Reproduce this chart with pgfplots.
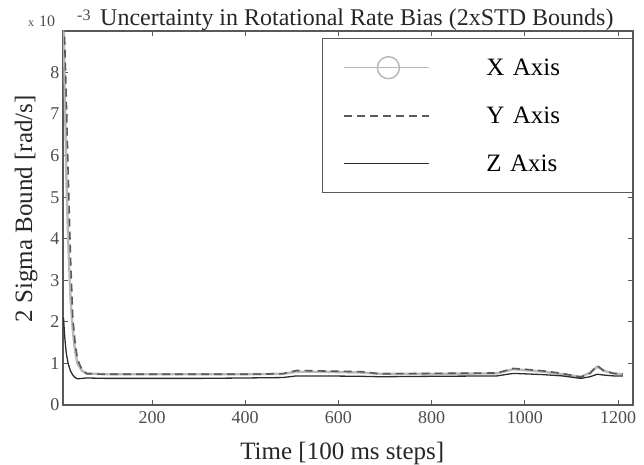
\documentclass[border=0pt]{standalone}
\usepackage{pgfplots}
\pgfplotsset{compat=1.18}
\usetikzlibrary{calc}
\usepackage{fontspec}
\setmainfont{Liberation Serif}

\definecolor{xgray}{RGB}{185,185,185}
\definecolor{ygray}{RGB}{90,90,90}
\definecolor{zgray}{RGB}{45,45,45}

% values in units of 1e-3 rad/s
\pgfplotstableread{
t    x     y     z
10   9.6   9.8   2.10
13   7.5   8.6   1.60
16   5.6   7.4   1.25
20   4.0   5.6   1.00
25   2.6   3.6   0.82
30   1.8   2.1   0.72
35   1.3   1.5   0.66
40   1.0   1.1   0.63
50   0.82  0.84  0.64
60   0.76  0.75  0.65
100  0.74  0.74  0.64
200  0.74  0.74  0.64
300  0.74  0.74  0.64
400  0.74  0.74  0.65
480  0.75  0.75  0.66
510  0.80  0.83  0.70
560  0.80  0.82  0.70
650  0.78  0.80  0.69
690  0.75  0.75  0.68
800  0.75  0.76  0.69
940  0.76  0.77  0.70
975  0.86  0.88  0.76
1000 0.84  0.86  0.75
1040 0.80  0.82  0.73
1080 0.74  0.76  0.70
1120 0.68  0.67  0.64
1140 0.78  0.76  0.68
1155 0.92  0.95  0.74
1170 0.82  0.82  0.72
1190 0.76  0.76  0.70
1210 0.74  0.74  0.70
}\sigmadata

\begin{document}
\begin{tikzpicture}
\begin{axis}[
  name=ax,
  scale only axis,
  width=570pt, height=374pt,
  xmin=9, xmax=1232,
  ymin=0, ymax=9,
  xtick={200,400,600,800,1000,1200},
  ytick={0,1,2,3,4,5,6,7,8},
  tick align=inside,
  major tick length=5pt,
  axis line style={black!65, line width=1.2pt},
  tick style={black!65, line width=0.8pt},
  ticklabel style={font=\fontsize{18}{20}\selectfont, text=black!70},
  xticklabel style={yshift=-3pt},
  /pgf/number format/assume math mode=true,
  /pgf/number format/1000 sep={},
  xlabel={Time [100 ms steps]},
  ylabel={2 Sigma Bound [rad/s]},
  xlabel style={font=\fontsize{25}{28}\selectfont, text=black!85,
    at={(axis description cs:0.49,-0.147)}, anchor=base},
  ylabel style={font=\fontsize{25}{28}\selectfont, text=black!85,
    at={(axis description cs:-0.054,0.525)}, anchor=base},
  legend style={at={(1,0.981)}, anchor=north east, draw=black!65,
    line width=1.2pt, inner xsep=0pt, inner ysep=5pt,
    font=\fontsize{25}{28}\selectfont, row sep=0pt,
    nodes={inner sep=0pt, text width=146pt, align=left}},
  legend cell align=left,
  legend image code/.code={
    \path[draw=none, fill=none] (-22pt,-24pt) rectangle (142pt,24pt);
    \draw[#1] (0pt,0pt) -- (85pt,0pt);
  },
]
\addplot[xgray, line width=2.4pt,
  legend image code/.code={
    \path[draw=none, fill=none] (-22pt,-24pt) rectangle (142pt,24pt);
    \draw[xgray, line width=1.5pt] (0pt,0pt) -- (85pt,0pt);
    \draw[xgray, line width=1.5pt] (44pt,0pt) circle (11pt);
  }]
  table[x=t, y=x] {\sigmadata};
\addlegendentry{X Axis}
\addplot[ygray, line width=1.6pt, dash pattern=on 8pt off 5pt]
  table[x=t, y=y] {\sigmadata};
\addlegendentry{Y Axis}
\addplot[zgray, line width=1.3pt]
  table[x=t, y=z] {\sigmadata};
\addlegendentry{Z Axis}
\end{axis}
\node[font=\fontsize{24}{28}\selectfont, text=black!85, anchor=base west, inner sep=0pt]
  at ($(ax.north west)+(37pt,5pt)$) {Uncertainty in Rotational Rate Bias (2xSTD Bounds)};
\node[text=black!70, anchor=base west, inner sep=0pt]
  at ($(ax.north west)+(-35pt,4pt)$) {\fontsize{12}{14}\selectfont x\hspace{5pt}\fontsize{16}{18}\selectfont 10};
\node[font=\fontsize{16}{18}\selectfont, text=black!70, anchor=base west, inner sep=0pt]
  at ($(ax.north west)+(14pt,10pt)$) {-3};
\pgfresetboundingbox
\path ([xshift=-63pt,yshift=-60pt]ax.south west) rectangle ([xshift=11pt,yshift=31pt]ax.north east);
\end{tikzpicture}
\end{document}
